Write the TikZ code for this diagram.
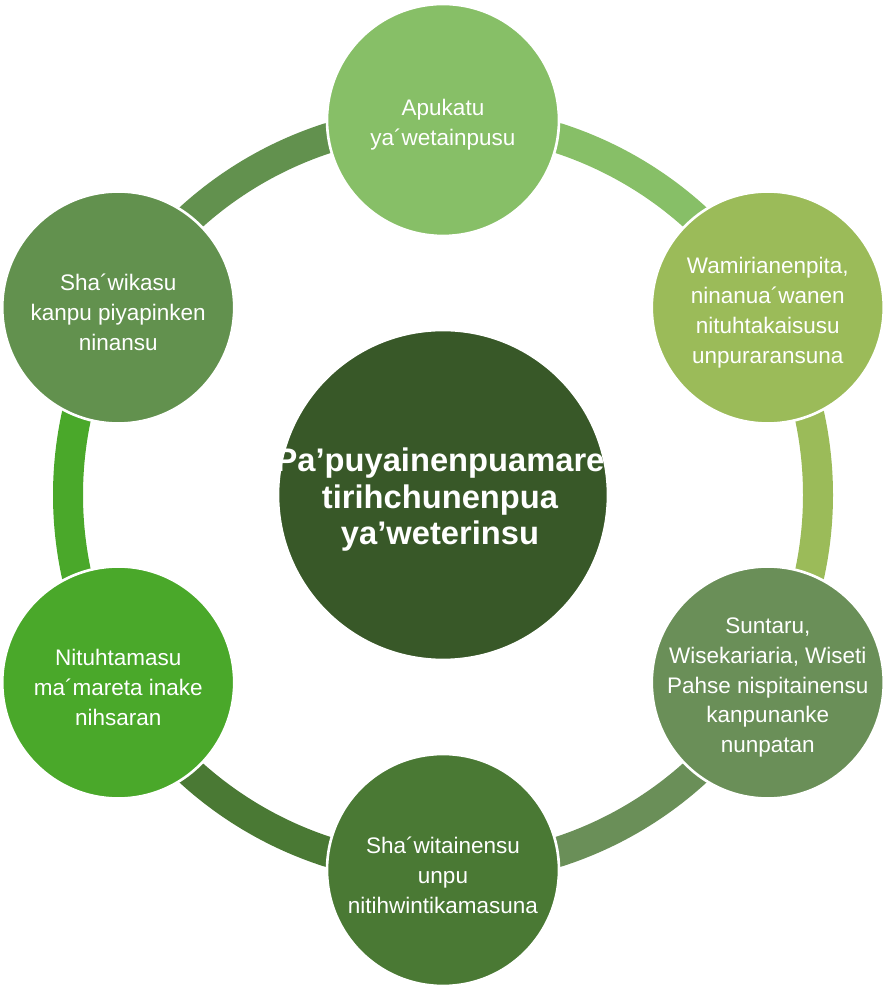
\documentclass[tikz,border=0pt]{standalone}
\usepackage{fontspec}
\setmainfont{Liberation Sans}
\usetikzlibrary{backgrounds}
\definecolor{GA}{HTML}{87BF67}
\definecolor{GB}{HTML}{9BBB59}
\definecolor{GC}{HTML}{6A8F58}
\definecolor{GD}{HTML}{4A7934}
\definecolor{GE}{HTML}{4AA82A}
\definecolor{GF}{HTML}{62914E}
\definecolor{GH}{HTML}{385828}
\tikzset{
  leaf/.style={circle, draw=white, line width=1.5pt, minimum size=4.64cm, inner sep=0pt},
  leaftext/.style={text=white, align=center, yshift=-0.1cm, font=\fontsize{12.8}{17}\selectfont},
  hub/.style={circle, draw=white, line width=1.5pt, minimum size=6.6cm, inner sep=0pt, fill=GH},
  hubtext/.style={text=white, align=center, xshift=-0.06cm, yshift=-0.1cm, font=\bfseries\fontsize{18.6}{20.8}\selectfont},
  band/.style={line width=0.6cm}
}

\begin{document}
\begin{tikzpicture}
      \useasboundingbox (-8.86,-9.8) rectangle (8.88,9.9);
      \node[hub, label={[hubtext]center:{Pa’puyainenpuamare\\tirihchunenpua\\ya’weterinsu}}] (hub) at (0,0) {};
      \node[leaf, fill=GA, label={[leaftext]center:{Apukatu\\ya´wetainpusu}}] (top) at (90:7.5) {};
      \node[leaf, fill=GB, label={[leaftext]center:{Wamirianenpita,\\ninanua´wanen\\nituhtakaisusu\\unpuraransuna}}] (tr) at (30:7.5) {};
      \node[leaf, fill=GC, label={[leaftext]center:{Suntaru,\\Wisekariaria, Wiseti\\Pahse nispitainensu\\kanpunanke\\nunpatan}}] (br) at (-30:7.5) {};
      \node[leaf, fill=GD, label={[leaftext]center:{Sha´witainensu\\unpu\\nitihwintikamasuna}}] (bot) at (-90:7.5) {};
      \node[leaf, fill=GE, label={[leaftext]center:{Nituhtamasu\\ma´mareta inake\\nihsaran}}] (bl) at (-150:7.5) {};
      \node[leaf, fill=GF, label={[leaftext]center:{Sha´wikasu\\kanpu piyapinken\\ninansu}}] (tl) at (150:7.5) {};
      % ring behind the circles
      \begin{scope}[on background layer]
        \draw[band, GA] (top.center) arc[start angle=90, end angle=30, radius=7.5];
        \draw[band, GB] (tr.center) arc[start angle=30, end angle=-30, radius=7.5];
        \draw[band, GC] (br.center) arc[start angle=-30, end angle=-90, radius=7.5];
        \draw[band, GD] (bot.center) arc[start angle=-90, end angle=-150, radius=7.5];
        \draw[band, GE] (bl.center) arc[start angle=210, end angle=150, radius=7.5];
        \draw[band, GF] (tl.center) arc[start angle=150, end angle=90, radius=7.5];
      \end{scope}
    \end{tikzpicture}
\end{document}
